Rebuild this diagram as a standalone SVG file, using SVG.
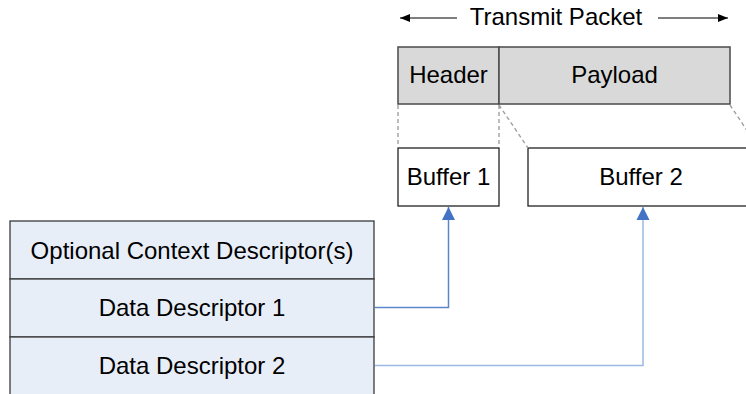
<svg xmlns="http://www.w3.org/2000/svg" width="746" height="394" viewBox="0 0 746 394">
<style>
text{font-family:"Liberation Sans",Arial,sans-serif;font-size:24px;fill:#000;text-anchor:middle}
.pk{fill:#d9d9d9;stroke:#4a4a4a;stroke-width:1.5}
.bf{fill:#fff;stroke:#222;stroke-width:1.3}
.ds{fill:#e8eef8;stroke:#3a3a3a;stroke-width:1.3}
.dash{stroke:#a0a0a0;stroke-width:1.4;stroke-dasharray:4 3;fill:none}
.con{fill:none;stroke-width:1.5}
</style>
<defs>
<marker id="ah" markerWidth="14" markerHeight="14" refX="13" refY="7" orient="auto" markerUnits="userSpaceOnUse" overflow="visible">
<path d="M0,0.5 L13,7 L0,13.5 Z" fill="#4472c4"/>
</marker>
<marker id="bk" markerWidth="10" markerHeight="8" refX="10" refY="4" orient="auto" markerUnits="userSpaceOnUse">
<path d="M0,0 L10,4 L0,8 Z" fill="#000"/>
</marker>
</defs>
<g id="title">
<line x1="457" y1="18" x2="400" y2="18" stroke="#555" stroke-width="1.5" marker-end="url(#bk)"/>
<text x="556" y="25">Transmit Packet</text>
<line x1="658" y1="18" x2="728" y2="18" stroke="#555" stroke-width="1.5" marker-end="url(#bk)"/>
</g>
<g id="header"><rect class="pk" x="398" y="47" width="101" height="57"/><text x="448.5" y="83">Header</text></g>
<g id="payload"><rect class="pk" x="499" y="47" width="231" height="57"/><text x="614.5" y="83">Payload</text></g>
<g id="buffer1"><rect class="bf" x="398" y="148" width="101" height="58"/><text x="448.5" y="185">Buffer 1</text></g>
<g id="buffer2"><rect class="bf" x="528" y="148" width="228" height="58"/><text x="641" y="185">Buffer 2</text></g>
<g id="ctx"><rect class="ds" x="10" y="221" width="364" height="58"/><text x="192" y="259">Optional Context Descriptor(s)</text></g>
<g id="dd1"><rect class="ds" x="10" y="279" width="364" height="58"/><text x="192" y="316">Data Descriptor 1</text></g>
<g id="dd2"><rect class="ds" x="10" y="337" width="364" height="70"/><text x="192" y="374">Data Descriptor 2</text></g>
<g id="connectors">
<path class="dash" d="M398,105 V147 M499,105 V147 M499,105 L528,148 M730,105 L760,150"/>
<path class="con" stroke="#5b86cc" d="M375,307.5 H448.5 V207" marker-end="url(#ah)"/>
<path class="con" stroke="#9db8e2" d="M375,365.5 H643 V207" marker-end="url(#ah)"/>
</g>
</svg>
